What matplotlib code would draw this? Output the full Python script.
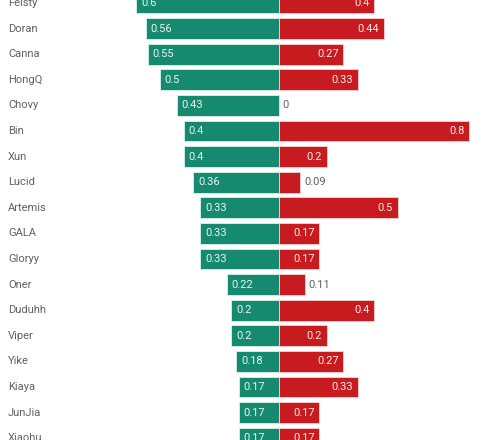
import matplotlib.pyplot as plt
from matplotlib.transforms import blended_transform_factory

plt.rcParams['font.family'] = ['Liberation Sans Narrow', 'Roboto', 'DejaVu Sans']

players = ['Feisty', 'Doran', 'Canna', 'HongQ', 'Chovy', 'Bin', 'Xun', 'Lucid',
           'Artemis', 'GALA', 'Gloryy', 'Oner', 'Duduhh', 'Viper', 'Yike',
           'Kiaya', 'JunJia', 'Xiaohu']
left_vals = [0.6, 0.56, 0.55, 0.5, 0.43, 0.4, 0.4, 0.36, 0.33, 0.33, 0.33,
             0.22, 0.2, 0.2, 0.18, 0.17, 0.17, 0.17]
right_vals = [0.4, 0.44, 0.27, 0.33, 0, 0.8, 0.2, 0.09, 0.5, 0.17, 0.17,
              0.11, 0.4, 0.2, 0.27, 0.33, 0.17, 0.17]

green = '#168a6f'
red = '#c81b1f'

fig = plt.figure(figsize=(5, 4.4), dpi=100)
ax = fig.add_axes([0, 0, 1, 1])

y = list(range(len(players)))
ax.barh(y, [-v for v in left_vals], height=0.82, color=green,
        edgecolor='#d8f3ee', linewidth=0.6)
ax.barh(y, right_vals, height=0.82, color=red,
        edgecolor='#f6d3d3', linewidth=0.6)

# scale: ~238 px per unit, centre at x=279px
ax.set_xlim(-279 / 238, (500 - 279) / 238)
ax.set_ylim((440 - 3) / 25.6, -3 / 25.6)
ax.axis('off')

trans = blended_transform_factory(ax.transAxes, ax.transData)
for i, name in enumerate(players):
    ax.text(0.016, i, name, transform=trans, ha='left', va='center',
            fontsize=8, color='#606060')

for i, (lv, rv) in enumerate(zip(left_vals, right_vals)):
    ax.text(-lv + 0.02, i, f'{lv:g}', ha='left', va='center',
            fontsize=8, color='#e8f5f1')
    if rv >= 0.15:
        ax.text(rv - 0.02, i, f'{rv:g}', ha='right', va='center',
                fontsize=8, color='#fbeaea')
    else:
        ax.text(rv + 0.015, i, f'{rv:g}', ha='left', va='center',
                fontsize=8, color='#606060')

fig.savefig('out.png', dpi=100)
